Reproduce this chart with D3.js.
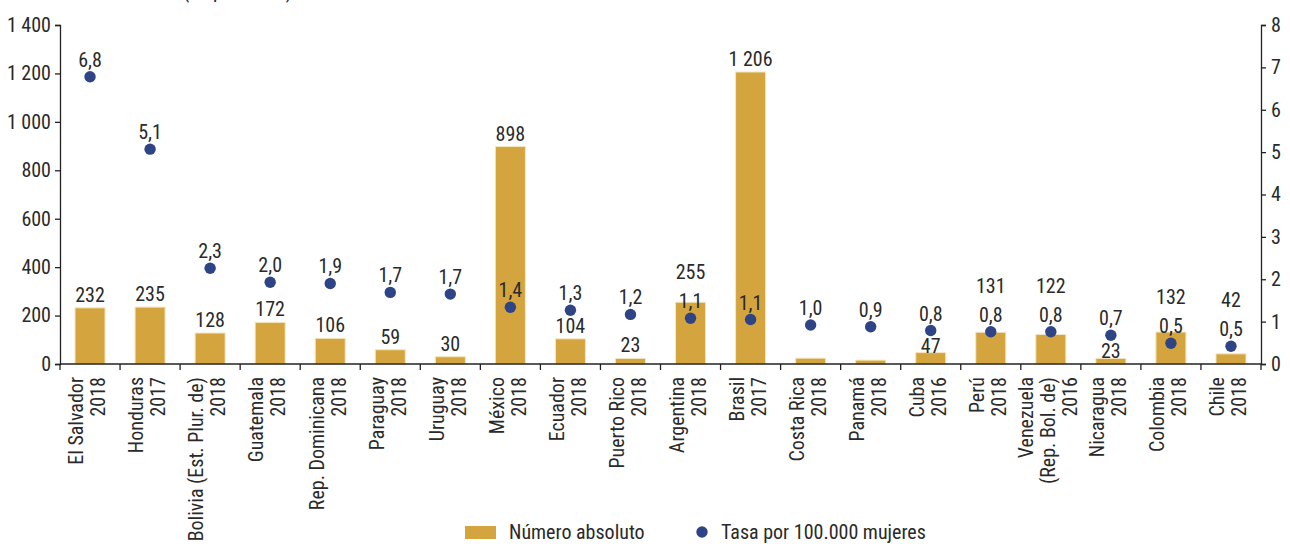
<!DOCTYPE html>
<html>
<head>
<meta charset="utf-8">
<script src="https://cdn.jsdelivr.net/npm/d3@7"></script>
<style>
  html, body { margin: 0; padding: 0; background: #fff; }
  svg text { font-family: "Liberation Sans Narrow", "Roboto Condensed", "Arial Narrow", "DejaVu Sans Condensed", Roboto, sans-serif; fill: #2a2a2a; }
</style>
</head>
<body>
<svg id="chart" width="1290" height="544"></svg>
<script>
const categories = ["El Salvador","Honduras","Bolivia (Est. Plur. de)","Guatemala","Rep. Dominicana","Paraguay","Uruguay","México","Ecuador","Puerto Rico","Argentina","Brasil","Costa Rica","Panamá","Cuba","Perú","Venezuela\n(Rep. Bol. de)","Nicaragua","Colombia","Chile"];
const years = ["2018","2017","2018","2018","2018","2018","2018","2018","2018","2018","2018","2017","2018","2018","2016","2018","2016","2018","2018","2018"];
const absoluteValues = [232,235,128,172,106,59,30,898,104,23,255,1206,24,16,47,131,122,23,132,42];
const absoluteLabels = ["232","235","128","172","106","59","30","898","104","23","255","1 206","","","47","131","122","23","132","42"];
const rateValues = [6.78,5.07,2.26,1.93,1.90,1.69,1.65,1.34,1.27,1.17,1.08,1.05,0.92,0.88,0.79,0.76,0.76,0.68,0.49,0.42];
const rateLabels = ["6,8","5,1","2,3","2,0","1,9","1,7","1,7","1,4","1,3","1,2","1,1","1,1","1,0","0,9","0,8","0,8","0,8","0,7","0,5","0,5"];
const leftTicks = [0,200,400,600,800,1000,1200,1400];
const rightTicks = [0,1,2,3,4,5,6,7,8];
const seriesNames = ["Número absoluto","Tasa por 100.000 mujeres"];
const unitNote = "(en personas)";

const BAR = "#D4A53E", DOT = "#2E4485", FS = 20;
const svg = d3.select("#chart");
const m = {left: 60, right: 1261, top: 25, bottom: 364};
const loc = d3.formatLocale({decimal: ",", thousands: "\u00a0", grouping: [3], currency: ["", ""]});
const fmt = loc.format(",d");

const x = d3.scaleBand().domain(categories).range([m.left, m.right]).paddingInner(0.5).paddingOuter(0.25);
const yL = d3.scaleLinear().domain([0, 1400]).range([m.bottom, m.top]);
const yR = d3.scaleLinear().domain([0, 8]).range([m.bottom, m.top]);

// clipped unit note at the top (only its descenders show, as in the reference)
svg.append("text").attr("x", 183).attr("y", -2).style("font-size", FS + "px").text(unitNote);

// bars
svg.append("g").selectAll("rect").data(categories).join("rect")
  .attr("x", d => x(d)).attr("width", x.bandwidth())
  .attr("y", (d, i) => yL(absoluteValues[i]))
  .attr("height", (d, i) => yL(0) - yL(absoluteValues[i]))
  .attr("fill", BAR).attr("stroke", "#f5e6c0").attr("stroke-width", 1);

// axes
const axL = svg.append("g").attr("transform", `translate(${m.left},0)`)
  .call(d3.axisLeft(yL).tickValues(leftTicks).tickFormat(fmt).tickSize(5).tickPadding(4));
const axR = svg.append("g").attr("transform", `translate(${m.right},0)`)
  .call(d3.axisRight(yR).tickValues(rightTicks).tickFormat(d3.format("d")).tickSize(5).tickPadding(5));
[axL, axR].forEach(a => {
  a.selectAll("text").style("font-size", FS + "px").attr("fill", "#2a2a2a");
  a.selectAll("path,line").attr("stroke", "#222").attr("stroke-width", 1.3);
});

// x axis: line + boundary ticks
const xg = svg.append("g");
xg.append("line").attr("x1", m.left).attr("x2", m.right).attr("y1", yL(0)).attr("y2", yL(0))
  .attr("stroke", "#222").attr("stroke-width", 1.5);
const half = (x.step() - x.bandwidth()) / 2;
const bounds = categories.map(c => x(c) - half).concat([x(categories[categories.length - 1]) + x.bandwidth() + half]);
xg.selectAll("line.tk").data(bounds).join("line").attr("class", "tk")
  .attr("x1", d => d).attr("x2", d => d).attr("y1", yL(0)).attr("y2", yL(0) + 6)
  .attr("stroke", "#222").attr("stroke-width", 1.3);

// x labels
const lab = xg.selectAll("g.lab").data(categories).join("g").attr("class", "lab")
  .attr("transform", d => `translate(${x(d) + x.bandwidth() / 2},377) rotate(-90)`);
lab.each(function(d, i) {
  const lines = d.split("\n").concat([years[i]]);
  const n = lines.length;
  d3.select(this).selectAll("text").data(lines).join("text")
    .attr("x", 0).attr("y", (t, j) => 4.3 + (j - (n - 1) / 2) * 22)
    .attr("text-anchor", "end").style("font-size", FS + "px").text(t => t);
});

// dots
const cx = d => x(d) + x.bandwidth() / 2;
svg.append("g").selectAll("circle").data(categories).join("circle")
  .attr("cx", cx).attr("cy", (d, i) => yR(rateValues[i])).attr("r", 5.7).attr("fill", DOT);

// rate labels
const H = 15;
svg.append("g").selectAll("text").data(categories).join("text")
  .attr("x", cx).attr("y", (d, i) => yR(rateValues[i]) - 10)
  .attr("text-anchor", "middle").style("font-size", FS + "px").text((d, i) => rateLabels[i]);

// bar labels with simple collision avoidance
const overlap = (a0, a1, b0, b1) => a0 < b1 && b0 < a1;
svg.append("g").selectAll("text").data(categories).join("text")
  .attr("x", cx)
  .attr("y", (d, i) => {
    const top = yL(absoluteValues[i]);
    const dy = yR(rateValues[i]);
    const rb = dy - 10;
    const hits = b => overlap(b - H, b, rb - H, rb) || overlap(b - H, b, dy - 6, dy + 6);
    let b = top - 6;
    if (!hits(b)) return b;
    b = top;
    if (!hits(b)) return b;
    return rb - H - 14;
  })
  .attr("text-anchor", "middle").style("font-size", FS + "px").text((d, i) => absoluteLabels[i]);

// legend
const lg = svg.append("g");
lg.append("rect").attr("x", 465).attr("y", 526).attr("width", 31).attr("height", 13).attr("fill", BAR);
lg.append("text").attr("x", 509).attr("y", 539).style("font-size", FS + "px").text(seriesNames[0]);
lg.append("circle").attr("cx", 702).attr("cy", 532).attr("r", 5.7).attr("fill", DOT);
lg.append("text").attr("x", 721).attr("y", 539).style("font-size", FS + "px").text(seriesNames[1]);
</script>
</body>
</html>
